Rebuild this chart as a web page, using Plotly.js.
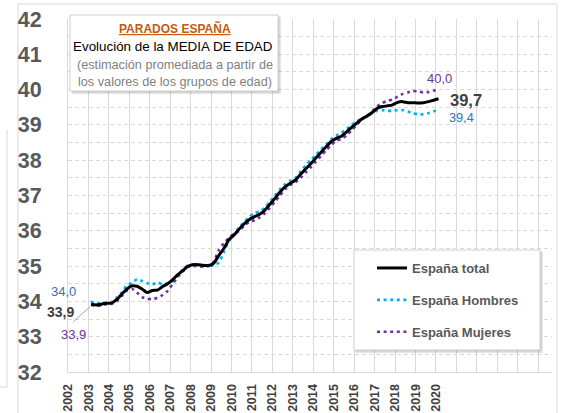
<!DOCTYPE html>
<html><head><meta charset="utf-8">
<script src="https://cdn.plot.ly/plotly-3.0.1.min.js"></script>
<style>html,body{margin:0;padding:0;background:#fff;}#chart{width:564px;height:413px;}</style>
</head><body><div id="chart"></div>
<script>
// Quarterly data, 2003 T1 .. 2020 T1
const startYear = 2003;
const total = [
  33.92, 33.90, 33.92, 33.95,
  33.95, 34.05, 34.20, 34.35,
  34.44, 34.43, 34.35, 34.25,
  34.31, 34.32, 34.42, 34.50,
  34.62, 34.76, 34.88, 35.00,
  35.04, 35.04, 35.02, 35.02,
  35.08, 35.30, 35.50, 35.75,
  35.88, 36.05, 36.20, 36.32,
  36.40, 36.47, 36.58, 36.75,
  36.92, 37.10, 37.25, 37.35,
  37.44, 37.60, 37.75, 37.90,
  38.06, 38.22, 38.38, 38.53,
  38.62, 38.68, 38.80, 38.93,
  39.05, 39.17, 39.25, 39.35,
  39.47, 39.52, 39.54, 39.57,
  39.64, 39.66, 39.63, 39.63,
  39.62, 39.63, 39.66, 39.70,
  39.74
];
const hombres = [
  34.00, 33.93, 33.95, 33.97,
  33.98, 34.10, 34.25, 34.45,
  34.52, 34.63, 34.58, 34.52,
  34.48, 34.54, 34.48, 34.52,
  34.58, 34.75, 34.90, 35.02,
  35.05, 35.03, 35.04, 35.00,
  35.02, 35.10, 35.40, 35.72,
  35.90, 36.10, 36.25, 36.40,
  36.50, 36.55, 36.65, 36.82,
  37.00, 37.18, 37.32, 37.42,
  37.50, 37.68, 37.85, 38.00,
  38.15, 38.30, 38.45, 38.60,
  38.70, 38.78, 38.88, 39.00,
  39.10, 39.18, 39.25, 39.32,
  39.40, 39.42, 39.40, 39.40,
  39.42, 39.42, 39.38, 39.33,
  39.31, 39.30, 39.33, 39.38,
  39.45
];
const mujeres = [
  33.90, 33.88, 33.88, 33.92,
  33.93, 34.00, 34.15, 34.30,
  34.36, 34.25, 34.12, 34.07,
  34.07, 34.10, 34.18, 34.30,
  34.50, 34.70, 34.85, 34.98,
  35.00, 35.00, 34.98, 35.00,
  35.12, 35.45, 35.65, 35.80,
  35.92, 36.00, 36.15, 36.25,
  36.30, 36.38, 36.50, 36.65,
  36.83, 37.00, 37.18, 37.30,
  37.38, 37.50, 37.65, 37.80,
  37.95, 38.12, 38.28, 38.43,
  38.55, 38.60, 38.70, 38.85,
  39.00, 39.15, 39.25, 39.38,
  39.52, 39.62, 39.68, 39.72,
  39.80, 39.88, 39.92, 39.96,
  39.95, 39.92, 39.93, 39.97,
  40.00
];
const yearTicks = [2002,2003,2004,2005,2006,2007,2008,2009,2010,2011,2012,2013,2014,2015,2016,2017,2018,2019,2020,2021,2022,2023,2024,2025];
const yearLabels = ['2002','2003','2004','2005','2006','2007','2008','2009','2010','2011','2012','2013','2014','2015','2016','2017','2018','2019','2020','','','','',''];
const yTicks = [32,33,34,35,36,37,38,39,40,41,42];
const seriesNames = ['España total','España Hombres','España Mujeres'];
const startLabels = ['34,0','33,9','33,9'];
const endLabels = ['39,7','39,4','40,0'];

const periods = total.map((_, i) => startYear + (i + 0.5) / 4);

const FONT = '"Liberation Sans", Arial, sans-serif';
const M = {l:68, r:12, t:19, b:41, W:564, H:413};
const PW = M.W - M.l - M.r, PH = M.H - M.t - M.b;
const px = x => (x - M.l) / PW;
const py = y => (M.H - M.b - y) / PH;

const traces = [
  {x: periods, y: hombres, name: seriesNames[1], type:'scatter', mode:'lines',
   line:{color:'#00B0F0', width:2.6, dash:'3px,3.6px', shape:'spline', smoothing:0.6},
   legendgroup:'h', legendrank:2, hoverinfo:'skip'},
  {x: periods, y: mujeres, name: seriesNames[2], type:'scatter', mode:'lines',
   line:{color:'#7030A0', width:2.6, dash:'3px,3.6px', shape:'spline', smoothing:0.6},
   legendgroup:'m', legendrank:3, hoverinfo:'skip'},
  {x: periods, y: total, name: seriesNames[0], type:'scatter', mode:'lines',
   line:{color:'#000000', width:3, shape:'spline', smoothing:0.6},
   legendgroup:'t', legendrank:1, hoverinfo:'skip'}
];

const ann = (x, y, text, size, color, bold, extra) => Object.assign({
  xref:'paper', yref:'paper', x:px(x), y:py(y), xanchor:'center', yanchor:'middle',
  showarrow:false, text: bold ? '<b>'+text+'</b>' : text,
  font:{family:FONT, size:size, color:color}
}, extra||{});

const annotations = [
  ann(175, 28.5, '<u>PARADOS ESPAÑA</u>', 12, '#C55A11', true),
  ann(172.5, 46.7, 'Evolución de la MEDIA DE EDAD', 13.4, '#000000', false),
  ann(175, 65, '(estimación promediada a partir de', 12.7, '#7F7F7F', false),
  ann(174.5, 81.7, 'los valores de los grupos de edad)', 12.7, '#7F7F7F', false),
  ann(63.7, 291.7, startLabels[0], 13, '#2E75B6', false),
  ann(60, 311.7, startLabels[1], 14, '#404040', true),
  ann(73, 334, startLabels[2], 13, '#7030A0', false),
  ann(466.3, 100, endLabels[0], 16.5, '#404040', true),
  ann(461.7, 118.3, endLabels[1], 12.7, '#2E75B6', false),
  ann(439.7, 78.3, endLabels[2], 13, '#7030A0', false)
];

const shapes = [
  // outer chart frame
  {type:'rect', xref:'paper', yref:'paper', x0:px(18), x1:px(557), y0:py(430), y1:py(4),
   line:{color:'#D9D9D9', width:1}, fillcolor:'rgba(0,0,0,0)', layer:'below'},
  // fragment of neighbouring frame at the left edge
  {type:'path', xref:'paper', yref:'paper',
   path:`M ${px(7)} ${py(130)} L ${px(7)} ${py(387)} L ${px(-5)} ${py(387)}`,
   line:{color:'#D9D9D9', width:1}, layer:'below'},
  // leader line for start label
  {type:'line', xref:'paper', yref:'paper', x0:px(73.3), y0:py(321.7), x1:px(90), y1:py(306.7),
   line:{color:'#A6A6A6', width:1}, layer:'above'},
  // title box shadow + box
  {type:'rect', xref:'paper', yref:'paper', x0:px(72), x1:px(281), y0:py(94), y1:py(17),
   line:{width:0}, fillcolor:'rgba(0,0,0,0.10)', layer:'above'},
  {type:'rect', xref:'paper', yref:'paper', x0:px(71), x1:px(279.5), y0:py(92.5), y1:py(16),
   line:{width:0}, fillcolor:'rgba(0,0,0,0.10)', layer:'above'},
  {type:'rect', xref:'paper', yref:'paper', x0:px(70), x1:px(278), y0:py(91), y1:py(15),
   line:{color:'#D0D0D0', width:1}, fillcolor:'#FFFFFF', layer:'above'},
  // legend box shadow + box
  {type:'rect', xref:'paper', yref:'paper', x0:px(356), x1:px(543), y0:py(353), y1:py(252),
   line:{width:0}, fillcolor:'rgba(0,0,0,0.10)', layer:'above'},
  {type:'rect', xref:'paper', yref:'paper', x0:px(355), x1:px(541.5), y0:py(351.5), y1:py(251),
   line:{width:0}, fillcolor:'rgba(0,0,0,0.10)', layer:'above'},
  {type:'rect', xref:'paper', yref:'paper', x0:px(354), x1:px(540), y0:py(350), y1:py(250),
   line:{color:'#D0D0D0', width:1}, fillcolor:'#FFFFFF', layer:'above'}
];

const layout = {
  width: M.W, height: M.H,
  margin:{l:M.l, r:M.r, t:M.t, b:M.b, pad:0},
  paper_bgcolor:'#FFFFFF', plot_bgcolor:'#FFFFFF',
  font:{family:FONT},
  showlegend:true,
  legend:{
    x:px(372), y:py(253), xanchor:'left', yanchor:'top',
    bgcolor:'rgba(0,0,0,0)', borderwidth:0,
    traceorder:'grouped', tracegroupgap:12, itemwidth:30,
    font:{family:FONT, size:13, color:'#595959', weight:'bold'}
  },
  xaxis:{
    range:[2002, 2002 + PW/20.44], tickmode:'array', tickvals:yearTicks, ticktext:yearLabels,
    tickangle:-90, ticks:'', ticklabelstandoff:6,
    tickfont:{family:FONT, size:12.5, color:'#404040', weight:'bold'},
    showgrid:true, gridcolor:'#D9D9D9', gridwidth:1,
    showline:true, linecolor:'#D9D9D9', linewidth:1, zeroline:false, fixedrange:true
  },
  yaxis:{
    range:[32, 42.001], tickmode:'array', tickvals:yTicks, ticks:'', ticklabelstandoff:21,
    tickfont:{family:FONT, size:21.5, color:'#595959', weight:'bold'},
    showgrid:true, gridcolor:'#D9D9D9', gridwidth:1, griddash:'4px,3px',
    minor:{dtick:0.5, showgrid:true, gridcolor:'#D9D9D9', gridwidth:1, griddash:'4px,3px'},
    showline:true, linecolor:'#D9D9D9', linewidth:1, zeroline:false, fixedrange:true
  },
  annotations: annotations,
  shapes: shapes
};

Plotly.newPlot('chart', traces, layout, {staticPlot:true, displayModeBar:false});
</script>
</body></html>
